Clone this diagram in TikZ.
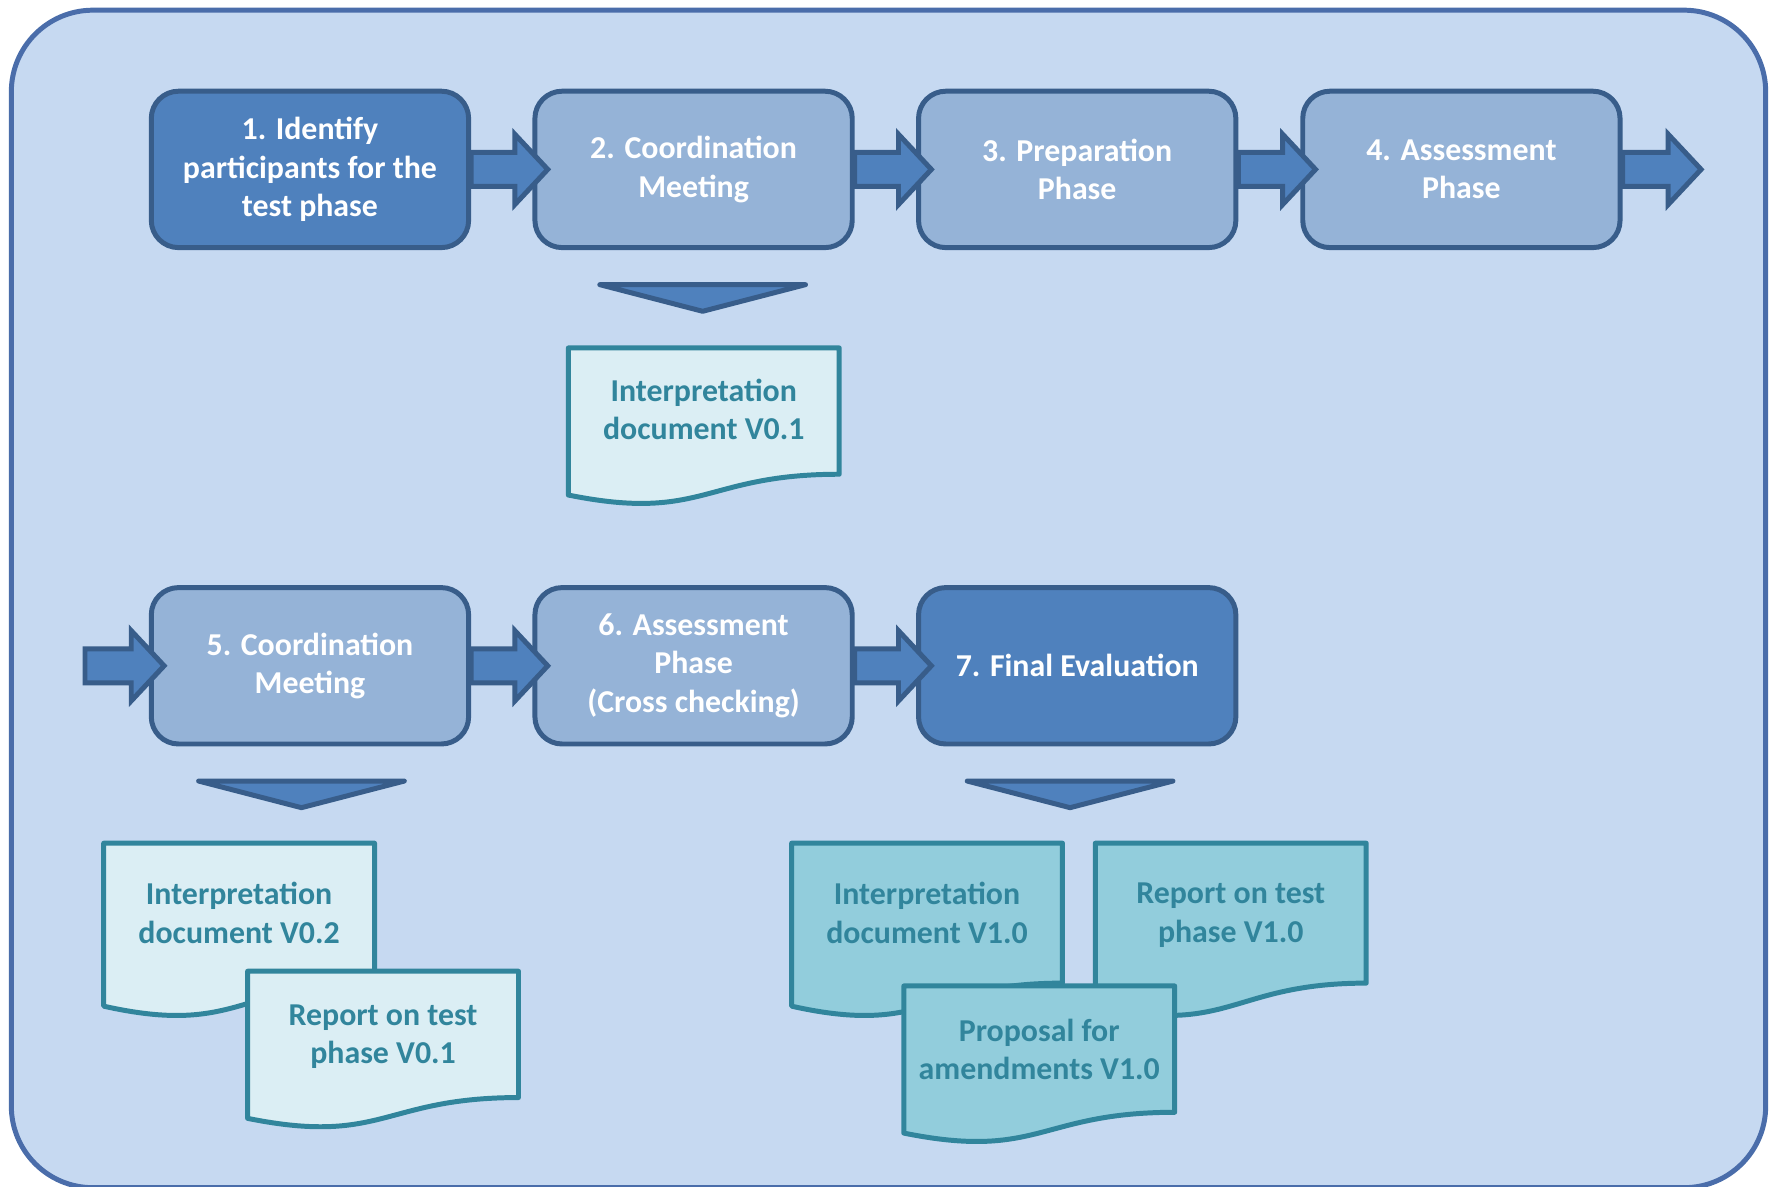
\documentclass[tikz,border=0pt]{standalone}
\usepackage{fontspec}
\setmainfont{Carlito}
\usepackage{tikz}
\usetikzlibrary{calc, positioning}

\definecolor{framefill}{HTML}{C6D9F1}
\definecolor{frameline}{HTML}{4A6DAA}
\definecolor{stepdark}{HTML}{4F81BD}
\definecolor{steplight}{HTML}{95B3D7}
\definecolor{stepline}{HTML}{385D8A}
\definecolor{docpale}{HTML}{DBEEF4}
\definecolor{docdeep}{HTML}{92CDDC}
\definecolor{docline}{HTML}{31859C}

\tikzset{
  every node/.style={inner sep=1pt},
  frame/.style={draw=frameline, fill=framefill, line width=2.5pt, rounded corners=1.44cm},
  phase/.style={rectangle, rounded corners=0.48cm, draw=stepline, line width=2.5pt,
    minimum width=5.60cm, minimum height=2.76cm, align=center, text=white,
    font=\fontsize{16}{19.2}\selectfont\bfseries},
  phasedark/.style={phase, fill=stepdark},
  phaselight/.style={phase, fill=steplight},
  % block arrow, tip pushed a bit into the target
  flow/.style={draw=stepline, fill=stepdark, line width=2.5pt,
    to path={
      ($(\tikztostart)+(0,0.30)$) -- ($(\tikztotarget)+(-0.31,0.30)$)
      -- ($(\tikztotarget)+(-0.31,0.62)$) -- ($(\tikztotarget)+(0.27,0)$)
      -- ($(\tikztotarget)+(-0.31,-0.62)$) -- ($(\tikztotarget)+(-0.31,-0.30)$)
      -- ($(\tikztostart)+(0,-0.30)$) -- cycle}},
  drop/.style={draw=stepline, fill=stepdark, line width=2.5pt, line join=round},
  palepaper/.style={draw=docline, fill=docpale, line width=2.5pt, line join=round},
  deeppaper/.style={draw=docline, fill=docdeep, line width=2.5pt, line join=round},
  papertext/.style={align=center, text=docline, font=\fontsize{16}{19.2}\selectfont\bfseries},
}

% document sheet with wavy bottom: #1 height, #2 style, #3 top left corner
\newcommand{\docsheet}[3][2.78]{%
  \draw[#2] (#3) -- ++(4.78,0) -- ++(0,-0.802*#1)
    .. controls +(-2.39,0) and +(2.39,-0.1735*#1) .. ++(-4.78,-0.132*#1) -- cycle;}

\begin{document}
\begin{tikzpicture}
  \useasboundingbox (0,0) rectangle (31.36,20.94);
  \draw[frame] (0.20,-0.02) rectangle (31.16,20.76);

  % first row
  \node[phasedark] at (5.47,17.95) (b1) {1. Identify\\participants for the\\test phase};
  \node[phaselight] at (12.24,17.95) (b2) {2. Coordination\\Meeting};
  \node[phaselight] at (19.01,17.95) (b3) {3. Preparation\\Phase};
  \node[phaselight] at (25.79,17.95) (b4) {4. Assessment\\Phase};
  \coordinate (exit) at (29.75,17.95);

  % second row
  \coordinate (entry) at (1.50,9.19);
  \node[phaselight] at (5.47,9.19) (b5) {5. Coordination\\Meeting};
  \node[phaselight] at (12.24,9.19) (b6) {6. Assessment\\Phase\\(Cross checking)};
  \node[phasedark] at (19.01,9.19) (b7) {7. Final Evaluation};

  % arrows
  \draw[flow] (b1.east) to (b2.west);
  \draw[flow] (b2.east) to (b3.west);
  \draw[flow] (b3.east) to (b4.west);
  \draw[flow] (b4.east) to (exit);
  \draw[flow] (entry) to (b5.west);
  \draw[flow] (b5.east) to (b6.west);
  \draw[flow] (b6.east) to (b7.west);

  % output marks
  \foreach \b/\dx in {b2/-1.655, b5/-1.965, b7/-1.941}
    \draw[drop] ($(\b.south)+(\dx,-0.61)$) -- ++(3.63,0) -- ++(-1.815,-0.47) -- cycle;

  % documents
  \coordinate (id1) at (10.03,14.80);
  \docsheet{palepaper}{id1}
  \node[papertext] (id1t) at ($(id1)+(2.39,-1.09)$) {Interpretation\\document V0.1};

  \coordinate (id2) at (1.83,6.06);
  \docsheet[3.08]{palepaper}{id2}
  \node[papertext] (id2t) at ($(id2)+(2.39,-1.23)$) {Interpretation\\document V0.2};

  \coordinate (rp1) at (4.37,3.80);
  \docsheet{palepaper}{rp1}
  \node[papertext] (rp1t) at ($(rp1)+(2.39,-1.16)$) {Report on test\\phase V0.1};

  \coordinate (id3) at (13.97,6.06);
  \docsheet[3.08]{deeppaper}{id3}
  \node[papertext] (id3t) at ($(id3)+(2.39,-1.23)$) {Interpretation\\document V1.0};

  \coordinate (rp2) at (19.33,6.06);
  \docsheet[3.08]{deeppaper}{rp2}
  \node[papertext] (rp2t) at ($(rp2)+(2.39,-1.27)$) {Report on test\\phase V1.0};

  \coordinate (am1) at (15.95,3.54);
  \docsheet{deeppaper}{am1}
  \node[papertext] (am1t) at ($(am1)+(2.39,-1.12)$) {Proposal for\\amendments V1.0};
\end{tikzpicture}
\end{document}
